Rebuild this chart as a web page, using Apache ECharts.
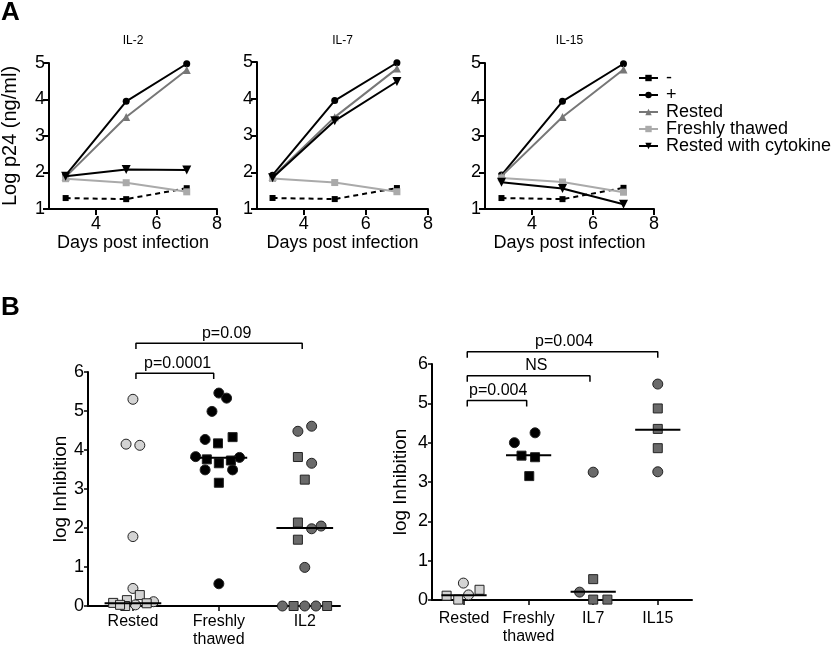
<!DOCTYPE html>
<html><head><meta charset="utf-8">
<script src="https://cdn.jsdelivr.net/npm/echarts@6/dist/echarts.min.js"></script>
<style>html,body{margin:0;padding:0;background:#fff}#c{width:835px;height:645px}</style>
</head><body><div id="c"></div>
<script>
// ---------- Panel A data ----------
const days = [3, 5, 7];
const xTicksA = [4, 6, 8];
const panelTitles = ['IL-2', 'IL-7', 'IL-15'];
const seriesNames = ['-', '+', 'Rested', 'Freshly thawed', 'Rested with cytokine'];

const negIL2 = [1.30, 1.27, 1.57];
const posIL2 = [1.92, 3.95, 4.98];
const restedIL2 = [1.88, 3.52, 4.81];
const freshIL2 = [1.83, 1.72, 1.47];
const cytoIL2 = [1.90, 2.08, 2.07];

const negIL7 = [1.30, 1.27, 1.57];
const posIL7 = [1.92, 3.95, 4.98];
const restedIL7 = [1.87, 3.50, 4.82];
const freshIL7 = [1.83, 1.72, 1.47];
const cytoIL7 = [1.85, 3.40, 4.47];

const negIL15 = [1.30, 1.27, 1.58];
const posIL15 = [1.93, 3.95, 4.98];
const restedIL15 = [1.90, 3.52, 4.82];
const freshIL15 = [1.85, 1.74, 1.46];
const cytoIL15 = [1.73, 1.56, 1.13];

// ---------- Panel B data ----------
const catsL = ['Rested', 'Freshly\nthawed', 'IL2'];
const catsR = ['Rested', 'Freshly\nthawed', 'IL7', 'IL15'];

const restedCircL = [[1.00,5.30],[0.92,4.15],[1.08,4.12],[1.00,1.78],[1.00,0.45],[1.24,0.11],[1.03,0.03]];
const restedSqL = [[0.77,0.08],[0.93,0.15],[1.08,0.28],[1.16,0.07],[0.91,0.00],[0.85,0.03]];
const freshCircL = [[2.00,5.46],[2.09,5.33],[1.92,4.99],[1.84,4.27],[1.73,3.83],[2.24,3.81],[1.84,3.49],[2.16,3.49],[2.00,0.57]];
const freshSqL = [[1.99,4.17],[2.16,4.33],[1.86,3.76],[2.00,3.66],[2.14,3.73],[2.00,3.16]];
const il2CircL = [[2.92,4.48],[3.08,4.61],[3.08,3.66],[3.19,2.05],[3.08,1.98],[3.00,0.99],[2.74,0],[3.00,0],[3.13,0]];
const il2SqL = [[2.92,3.82],[3.00,3.24],[2.92,2.14],[2.92,1.70],[2.87,0],[3.26,0]];
const mediansL = [0.07, 3.80, 2.00];

const restedCircR = [[0.99,0.43],[1.07,0.13]];
const restedSqR = [[0.73,0.11],[0.91,0.01],[1.24,0.26]];
const freshCircR = [[1.78,4.00],[2.10,4.25]];
const freshSqR = [[1.89,3.67],[2.10,3.63],[2.01,3.15]];
const il7CircR = [[3.00,3.25],[2.79,0.20]];
const il7SqR = [[3.00,0.53],[3.00,0.01],[3.22,0.01]];
const il15CircR = [[4.00,5.49],[4.00,3.26]];
const il15SqR = [[4.00,4.87],[4.00,4.35],[4.00,3.86]];
const mediansR = [0.12, 3.68, 0.21, 4.33];

// brackets: [from, to, height, labelX, label]
const bracketsL = [[1.035, 1.94, 5.97, 1.52, 'p=0.0001'], [1.035, 2.97, 6.74, 2.09, 'p=0.09']];
const bracketsR = [[1.05, 1.97, 5.07, 1.53, 'p=0.004'], [1.05, 2.95, 5.70, 2.12, 'NS'], [1.05, 4.00, 6.31, 2.55, 'p=0.004']];

// ---------- styles / layout ----------
const F = "'Liberation Sans', Arial, Helvetica, sans-serif";
const gridsA = [
  {left: 49, top: 63, width: 168, height: 146},
  {left: 257, top: 62, width: 171, height: 147},
  {left: 485, top: 63, width: 169, height: 146}
];
const xMinA = [2.45, 2.5, 2.46];
const gridL = {left: 88, top: 372, width: 252, height: 234};
const gridR = {left: 432, top: 364, width: 260, height: 236};

const lineStyles = [
  {color: '#000', symbol: 'rect', symbolSize: 6, lineStyle: {width: 2, color: '#000', type: [5, 4]}},
  {color: '#000', symbol: 'circle', symbolSize: 7, lineStyle: {width: 2, color: '#000'}},
  {color: '#777', symbol: 'triangle', symbolSize: 8, lineStyle: {width: 2, color: '#777'}},
  {color: '#aaa', symbol: 'rect', symbolSize: 7, lineStyle: {width: 2, color: '#aaa'}},
  {color: '#000', symbol: 'triangle', symbolRotate: 180, symbolSize: 9, lineStyle: {width: 2, color: '#000'}}
];
const panelSets = [
  [negIL2, posIL2, restedIL2, freshIL2, cytoIL2],
  [negIL7, posIL7, restedIL7, freshIL7, cytoIL7],
  [negIL15, posIL15, restedIL15, freshIL15, cytoIL15]
];
const drawOrder = [3, 0, 2, 4, 1];

const grids = [], xAxes = [], yAxes = [], series = [];
function addGrid(g) {
  grids.push(Object.assign({containLabel: false, outerBoundsMode: 'none'}, g));
}

panelSets.forEach((sets, i) => {
  addGrid(gridsA[i]);
  xAxes.push({
    gridIndex: i, type: 'value', min: xMinA[i], max: 8,
    axisLine: {lineStyle: {color: '#000', width: 2}},
    axisTick: {customValues: xTicksA, length: 6, lineStyle: {color: '#000', width: 2}},
    axisLabel: {customValues: xTicksA, color: '#000', fontSize: 18, fontFamily: F, margin: 6},
    splitLine: {show: false},
    name: 'Days post infection', nameLocation: 'middle', nameGap: 23,
    nameTextStyle: {color: '#000', fontSize: 18, fontFamily: F}
  });
  yAxes.push({
    gridIndex: i, type: 'value', min: 1, max: 5, interval: 1,
    axisLine: {show: true, onZero: false, lineStyle: {color: '#000', width: 2}},
    axisTick: {show: true, length: 6, lineStyle: {color: '#000', width: 2}},
    axisLabel: {color: '#000', fontSize: 18, fontFamily: F, margin: 4},
    splitLine: {show: false},
    name: i === 0 ? 'Log p24 (ng/ml)' : '', nameLocation: 'middle', nameGap: 29,
    nameTextStyle: {color: '#000', fontSize: 20, fontFamily: F}
  });
  drawOrder.forEach(k => {
    series.push(Object.assign({
      type: 'line', name: seriesNames[k], xAxisIndex: i, yAxisIndex: i,
      data: days.map((d, j) => [d, sets[k][j]]), z: 2 + k
    }, lineStyles[k]));
  });
});

function bAxes(gi, grid, cats, xmin, xmax, labelMargin, nameGap) {
  addGrid(grid);
  const ticks = cats.map((c, i) => i + 1);
  xAxes.push({
    gridIndex: gi, type: 'value', min: xmin, max: xmax,
    axisLine: {onZero: false, lineStyle: {color: '#000', width: 2}},
    axisTick: {customValues: ticks, length: 5, lineStyle: {color: '#000', width: 1.5}},
    axisLabel: {customValues: ticks, color: '#000', fontSize: 16, fontFamily: F, lineHeight: 18,
      margin: labelMargin, formatter: v => cats[Math.round(v) - 1]},
    splitLine: {show: false}
  });
  yAxes.push({
    gridIndex: gi, type: 'value', min: 0, max: 6, interval: 1,
    axisLine: {show: true, onZero: false, lineStyle: {color: '#000', width: 2}},
    axisTick: {show: true, length: 4, lineStyle: {color: '#000', width: 1.5}},
    axisLabel: {color: '#000', fontSize: 18, fontFamily: F, margin: 4},
    splitLine: {show: false},
    name: 'log Inhibition', nameLocation: 'middle', nameGap: nameGap,
    nameTextStyle: {color: '#000', fontSize: 19, fontFamily: F}
  });
}
function dots(gi, data, shape, fill) {
  series.push({
    type: 'scatter', xAxisIndex: gi, yAxisIndex: gi, data: data, clip: false,
    symbol: shape, symbolSize: shape === 'circle' ? 10 : 9,
    itemStyle: {color: fill, borderColor: '#222', borderWidth: 1, opacity: 1}, z: 3
  });
}
function medians(gi, meds, half) {
  meds.forEach((m, i) => series.push({
    type: 'line', xAxisIndex: gi, yAxisIndex: gi, symbol: 'none', silent: true,
    data: [[i + 1 - half, m], [i + 1 + half, m]], lineStyle: {color: '#000', width: 2}, z: 6
  }));
}
function brackets(gi, list, drop) {
  list.forEach(b => {
    series.push({
      type: 'line', xAxisIndex: gi, yAxisIndex: gi, symbol: 'none', silent: true, clip: false,
      data: [[b[0], b[2] - drop], [b[0], b[2]], [b[1], b[2]], [b[1], b[2] - drop]],
      lineStyle: {color: '#000', width: 1.5}, z: 6
    });
  });
  series.push({
    type: 'scatter', xAxisIndex: gi, yAxisIndex: gi, symbolSize: 0, silent: true, clip: false,
    itemStyle: {opacity: 1},
    data: list.map(b => ({name: b[4], value: [b[3], b[2]]})),
    label: {show: true, position: 'top', distance: 2, formatter: '{b}', color: '#000', opacity: 1, fontSize: 16, fontFamily: F},
    z: 7
  });
}

const lightFill = '#d3d3d3', darkFill = '#6a6a6a', blackFill = '#000';

bAxes(3, gridL, catsL, 0.477, 3.41, 7, 18);
dots(3, restedCircL, 'circle', lightFill);
dots(3, restedSqL, 'rect', lightFill);
dots(3, freshCircL, 'circle', blackFill);
dots(3, freshSqL, 'rect', blackFill);
dots(3, il2CircL, 'circle', darkFill);
dots(3, il2SqL, 'rect', darkFill);
medians(3, mediansL, 0.33);
brackets(3, bracketsL, 0.15);

bAxes(4, gridR, catsR, 0.504, 4.53, 10, 22);
dots(4, restedCircR, 'circle', lightFill);
dots(4, restedSqR, 'rect', lightFill);
dots(4, freshCircR, 'circle', blackFill);
dots(4, freshSqR, 'rect', blackFill);
dots(4, il7CircR, 'circle', darkFill);
dots(4, il7SqR, 'rect', darkFill);
dots(4, il15CircR, 'circle', darkFill);
dots(4, il15SqR, 'rect', darkFill);
medians(4, mediansR, 0.35);
brackets(4, bracketsR, 0.15);

const titleX = gridsA.map(g => g.left + g.width / 2);
const graphics = [
  {type: 'text', x: 1, y: 13, style: {text: 'A', font: 'bold 26px ' + F, fill: '#000', textVerticalAlign: 'middle'}},
  {type: 'text', x: 1, y: 308, style: {text: 'B', font: 'bold 26px ' + F, fill: '#000', textVerticalAlign: 'middle'}}
].concat(panelTitles.map((t, i) => ({
  type: 'text', x: titleX[i], y: 41,
  style: {text: t, font: '12px ' + F, fill: '#000', textAlign: 'center', textVerticalAlign: 'middle'}
})));

const legendData = seriesNames.map((n, k) => k === 0 ? {name: n, lineStyle: {type: 'solid'}} : {name: n});

const chart = echarts.init(document.getElementById('c'));
chart.setOption({
  animation: false,
  backgroundColor: '#fff',
  textStyle: {fontFamily: F},
  grid: grids,
  xAxis: xAxes,
  yAxis: yAxes,
  legend: {
    orient: 'vertical', left: 638, top: 69, padding: 0, data: legendData,
    itemWidth: 19, itemHeight: 8, itemGap: -1, selectedMode: false,
    textStyle: {color: '#000', fontSize: 18, fontFamily: F, lineHeight: 17, padding: [0, 0, 0, 3]}
  },
  graphic: graphics,
  series: series
});
</script>
</body></html>
